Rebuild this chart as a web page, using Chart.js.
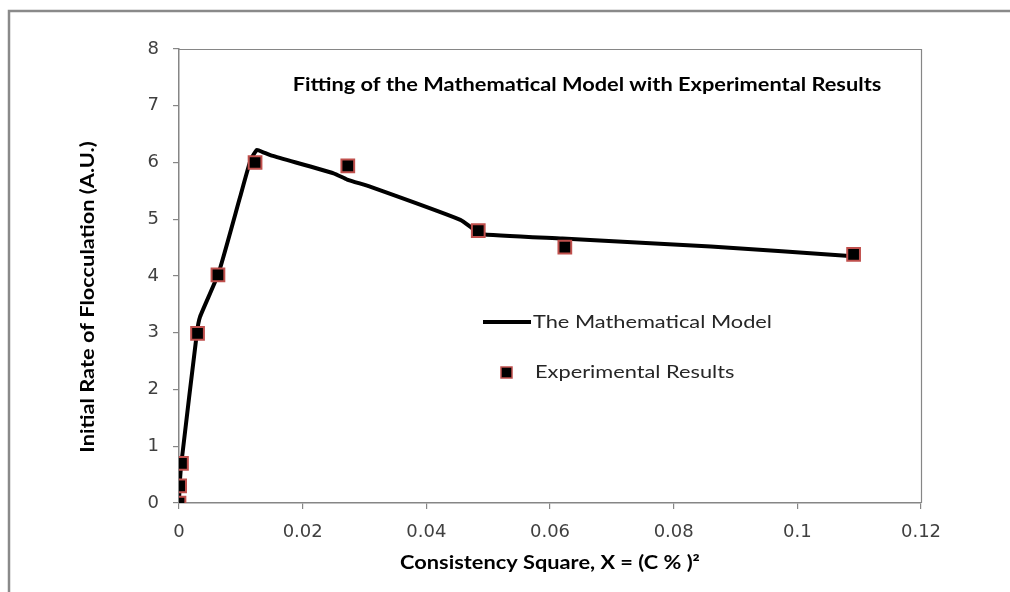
<!DOCTYPE html>
<html><head><meta charset="utf-8">
<script src="https://cdn.jsdelivr.net/npm/chart.js@4/dist/chart.umd.min.js"></script>
<style>html,body{margin:0;padding:0;background:#fff;}canvas{display:block;}</style>
</head><body>
<canvas id="c" width="1010" height="592"></canvas>
<script>
// ---- data ----
const expX = [0, 0.0001, 0.0004, 0.0030, 0.0063, 0.0123, 0.0273, 0.0484, 0.0624, 0.1091];
const expY = [0, 0.30, 0.70, 2.99, 4.02, 6.00, 5.94, 4.80, 4.51, 4.38];
const modelX = [0, 0.0001, 0.0004, 0.0029, 0.0034, 0.0064, 0.0099, 0.0116, 0.0126, 0.0136, 0.0150, 0.0250, 0.0272, 0.0310, 0.0455, 0.0472, 0.0486, 0.0620, 0.0860, 0.1090];
const modelY = [0, 0.30, 0.72, 3.00, 3.28, 4.05, 5.40, 6.05, 6.22, 6.18, 6.12, 5.81, 5.70, 5.57, 4.99, 4.86, 4.74, 4.66, 4.52, 4.35];
const xTicks = [0, 0.02, 0.04, 0.06, 0.08, 0.1, 0.12];
const yTicks = [0, 1, 2, 3, 4, 5, 6, 7, 8];
const seriesNames = ["The Mathematical Model", "Experimental Results"];
const chartTitle = "Fitting of the Mathematical Model with Experimental Results";
const xTitle = "Consistency Square, X = (C % )\u00B2";
const yTitle = "Initial Rate of Flocculation (A.U.)";

const AXIS = '#868686';
const PT_BORDER = '#c0504d';
const SX = 1.21;

function txt(ctx, s, x, y, font, color, align, rot) {
  ctx.save();
  ctx.translate(x, y);
  if (rot) ctx.rotate(rot);
  ctx.scale(SX, 1);
  ctx.font = font;
  ctx.fillStyle = color;
  ctx.textAlign = align;
  ctx.textBaseline = 'middle';
  ctx.fillText(s, 0, 0);
  ctx.restore();
}

const decor = {
  id: 'decor',
  beforeDraw(chart) {
    const ctx = chart.ctx;
    ctx.save();
    ctx.fillStyle = '#fff';
    ctx.fillRect(0, 0, chart.width, chart.height);
    ctx.strokeStyle = '#8a8a8a';
    ctx.lineWidth = 2.5;
    ctx.beginPath();
    ctx.moveTo(9, chart.height + 2);
    ctx.lineTo(9, 11);
    ctx.lineTo(chart.width + 2, 11);
    ctx.stroke();
    ctx.restore();
  },
  afterDraw(chart) {
    const ctx = chart.ctx;
    const a = chart.chartArea;
    ctx.save();
    // plot-area box (top and right edges)
    ctx.strokeStyle = AXIS;
    ctx.lineWidth = 1.2;
    ctx.beginPath();
    ctx.moveTo(a.left, a.top + 0.5);
    ctx.lineTo(a.right + 0.5, a.top + 0.5);
    ctx.lineTo(a.right + 0.5, a.bottom);
    ctx.stroke();
    // chart title
    txt(ctx, chartTitle, 587, 85, 'bold 18px Lato', '#000', 'center');
    // legend
    ctx.strokeStyle = '#000';
    ctx.lineWidth = 4;
    ctx.beginPath();
    ctx.moveTo(483, 322);
    ctx.lineTo(531, 322);
    ctx.stroke();
    txt(ctx, seriesNames[0], 533, 322, '18px Lato', '#262626', 'left');
    ctx.fillStyle = '#000';
    ctx.fillRect(501, 367, 11, 11);
    ctx.strokeStyle = PT_BORDER;
    ctx.lineWidth = 1.5;
    ctx.strokeRect(501, 367, 11, 11);
    txt(ctx, seriesNames[1], 535, 372, '18px Lato', '#262626', 'left');
    // axis titles
    txt(ctx, xTitle, (a.left + a.right) / 2, 563, 'bold 18px Lato', '#000', 'center');
    txt(ctx, yTitle, 88, 297, 'bold 18px Lato', '#000', 'center', -Math.PI / 2);
    ctx.restore();
  }
};

const fmt = v => String(+v.toFixed(4));

new Chart(document.getElementById('c'), {
  type: 'scatter',
  data: {
    datasets: [
      {
        label: seriesNames[1],
        data: expX.map((x, i) => ({x, y: expY[i]})),
        pointStyle: 'rect',
        pointRadius: 9,
        pointHoverRadius: 9,
        backgroundColor: '#000',
        borderColor: PT_BORDER,
        borderWidth: 2,
        order: 1
      },
      {
        label: seriesNames[0],
        data: modelX.map((x, i) => ({x, y: modelY[i]})),
        showLine: true,
        borderColor: '#000',
        backgroundColor: '#000',
        borderWidth: 4,
        pointRadius: 0,
        tension: 0.15,
        borderJoinStyle: 'round',
        borderCapStyle: 'round',
        fill: false,
        order: 2
      }
    ]
  },
  options: {
    responsive: false,
    animation: false,
    events: [],
    layout: { padding: { left: 0, top: 49, right: 89, bottom: 0 } },
    plugins: { legend: { display: false }, title: { display: false }, tooltip: { enabled: false } },
    scales: {
      x: {
        type: 'linear', min: 0, max: 0.12,
        afterBuildTicks: s => { s.ticks = xTicks.map(v => ({value: v})); },
        afterFit: s => { s.height = 89; },
        grid: { display: true, drawOnChartArea: false, drawTicks: true, tickLength: 6, color: AXIS, lineWidth: 1.2 },
        border: { display: true, color: AXIS, width: 1.5 },
        ticks: { callback: v => fmt(v), font: { family: 'DejaVu Sans', size: 18 }, color: '#404040', padding: 13, maxRotation: 0, autoSkip: false }
      },
      y: {
        type: 'linear', min: 0, max: 8,
        afterBuildTicks: s => { s.ticks = yTicks.map(v => ({value: v})); },
        afterFit: s => { s.width = 179; },
        grid: { display: true, drawOnChartArea: false, drawTicks: true, tickLength: 6, color: AXIS, lineWidth: 1.2 },
        border: { display: true, color: AXIS, width: 1.5 },
        ticks: { callback: v => fmt(v), font: { family: 'DejaVu Sans', size: 18 }, color: '#404040', padding: 14, autoSkip: false }
      }
    }
  },
  plugins: [decor]
});
</script>
</body></html>
